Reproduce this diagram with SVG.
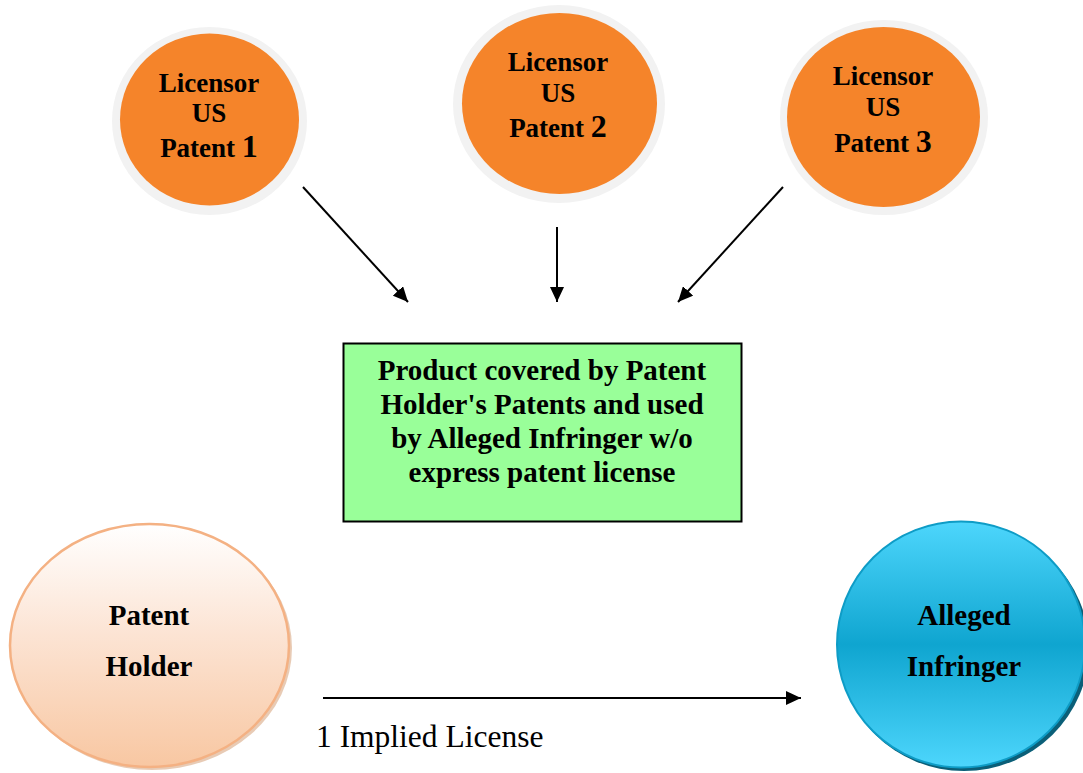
<svg xmlns="http://www.w3.org/2000/svg" width="1083" height="773" viewBox="0 0 1083 773">
<defs>
<linearGradient id="gPeach" x1="0" y1="0" x2="0" y2="1">
<stop offset="0" stop-color="#FFFFFF"/>
<stop offset="0.45" stop-color="#FCE4D4"/>
<stop offset="1" stop-color="#F8C7A2"/>
</linearGradient>
<linearGradient id="gBlue" x1="0" y1="0" x2="0" y2="1">
<stop offset="0" stop-color="#4DD6FC"/>
<stop offset="0.5" stop-color="#0FA5D0"/>
<stop offset="1" stop-color="#4DD6FC"/>
</linearGradient>
<marker id="ah" viewBox="0 0 10 10" refX="10" refY="5" markerWidth="15" markerHeight="14" markerUnits="userSpaceOnUse" orient="auto" preserveAspectRatio="none">
<path d="M0,0 L10,5 L0,10 z" fill="#000"/>
</marker>
</defs>
<style>
.ring{fill:#F2F2F2}
.orange{fill:#F5842A}
.t{font-family:"Liberation Serif","Times New Roman",serif;font-weight:bold;fill:#000;text-anchor:middle}
.c{font-size:27px}
.num{font-size:32px}
.big{font-size:29px}
.box{font-size:29px}
.lbl{font-family:"Liberation Serif","Times New Roman",serif;font-size:31.5px;fill:#000}
.conn line{stroke:#000;stroke-width:2;fill:none}
</style>
<rect width="1083" height="773" fill="#FFFFFF"/>

<g id="licensor1">
<ellipse class="ring" cx="209.5" cy="121" rx="97.5" ry="94"/>
<ellipse class="orange" cx="209.5" cy="119.5" rx="89.5" ry="86"/>
<text class="t c" x="209" y="92">Licensor</text>
<text class="t c" x="209" y="122">US</text>
<text class="t c" x="209" y="157">Patent <tspan class="num">1</tspan></text>
</g>

<g id="licensor2">
<ellipse class="ring" cx="559" cy="104" rx="106" ry="99"/>
<ellipse class="orange" cx="559.5" cy="103.5" rx="97.5" ry="90.5"/>
<text class="t c" x="558" y="71">Licensor</text>
<text class="t c" x="558" y="102">US</text>
<text class="t c" x="558" y="137">Patent <tspan class="num">2</tspan></text>
</g>

<g id="licensor3">
<ellipse class="ring" cx="884" cy="117.5" rx="104" ry="97.5"/>
<ellipse class="orange" cx="883.5" cy="117" rx="96.5" ry="90"/>
<text class="t c" x="883" y="85">Licensor</text>
<text class="t c" x="883" y="116">US</text>
<text class="t c" x="883" y="152">Patent <tspan class="num">3</tspan></text>
</g>

<g id="product">
<rect x="343.5" y="343.5" width="398" height="178" fill="#99FF99" stroke="#000" stroke-width="2"/>
<text class="t box" x="542" y="380">Product covered by Patent</text>
<text class="t box" x="542" y="414">Holder's Patents and used</text>
<text class="t box" x="542" y="448">by Alleged Infringer w/o</text>
<text class="t box" x="542" y="482">express patent license</text>
</g>

<g id="patent-holder">
<ellipse cx="152" cy="648" rx="140" ry="122" fill="#D9A984" opacity="0.6"/>
<ellipse cx="149.5" cy="645.5" rx="139.5" ry="121.5" fill="url(#gPeach)" stroke="#F4B183" stroke-width="2.5"/>
<text class="t big" x="149" y="625">Patent</text>
<text class="t big" x="149" y="676">Holder</text>
</g>

<g id="alleged-infringer">
<ellipse cx="964" cy="648" rx="125" ry="123" fill="#0B5F78"/>
<ellipse cx="961" cy="644.5" rx="124" ry="123" fill="url(#gBlue)" stroke="#0E9CC6" stroke-width="2"/>
<text class="t big" x="964" y="625">Alleged</text>
<text class="t big" x="964" y="676">Infringer</text>
</g>

<g id="connectors" class="conn">
<line x1="303" y1="187" x2="408" y2="302" marker-end="url(#ah)"/>
<line x1="557" y1="227" x2="557" y2="302" marker-end="url(#ah)"/>
<line x1="783" y1="187" x2="678" y2="302" marker-end="url(#ah)"/>
<line x1="323" y1="698" x2="801" y2="698" marker-end="url(#ah)"/>
</g>
<text class="lbl" x="316" y="747">1 Implied License</text>
</svg>
